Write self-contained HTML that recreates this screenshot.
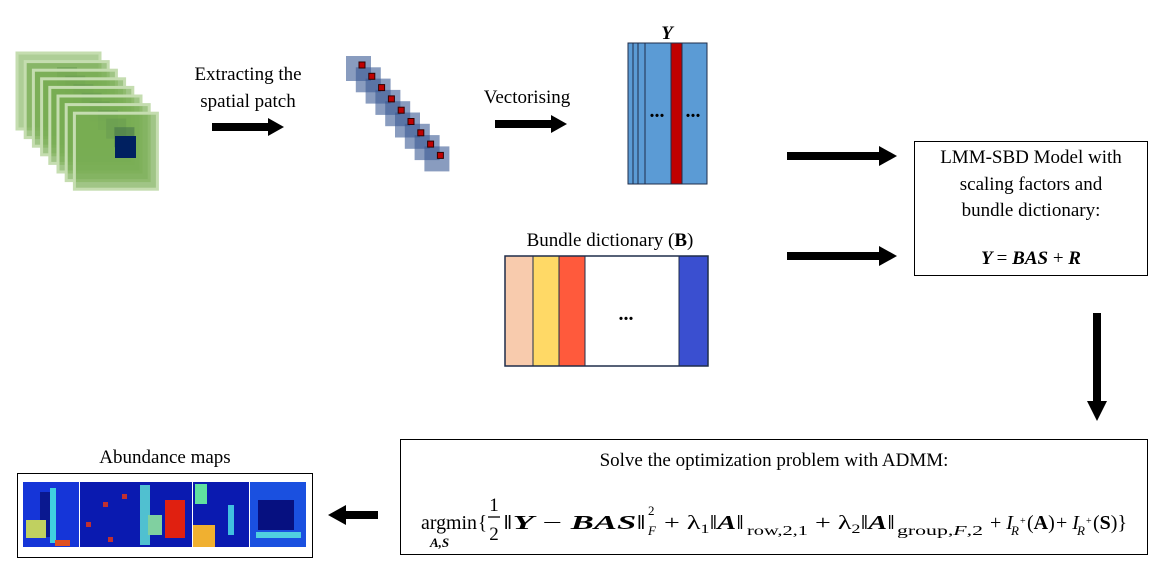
<!DOCTYPE html>
<html><head><meta charset="utf-8"><style>
body{margin:0;background:#fff;width:1173px;height:567px;overflow:hidden}
svg{display:block}
text{font-family:"Liberation Serif",serif;fill:#000}
</style></head><body>
<svg width="1173" height="567" viewBox="0 0 1173 567">
<g id="stack"></g>
<text x="248" y="80" font-size="19" text-anchor="middle">Extracting the</text>
<text x="248" y="107" font-size="19" text-anchor="middle">spatial patch</text>
<g><rect x="212" y="123" width="58" height="8"/><polygon points="268,118 284,127 268,136"/></g>
<g id="diag"></g>
<text x="527" y="103" font-size="19" text-anchor="middle">Vectorising</text>
<g><rect x="495" y="120" width="58" height="8"/><polygon points="551,115 567,124 551,133"/></g>
<g>
<rect x="628" y="43" width="79" height="141" fill="#5b9bd5" stroke="#1f2d4a" stroke-width="1"/>
<line x1="633" y1="43" x2="633" y2="184" stroke="#1f2d4a"/>
<line x1="638" y1="43" x2="638" y2="184" stroke="#1f2d4a"/>
<line x1="645" y1="43" x2="645" y2="184" stroke="#1f2d4a"/>
<rect x="671" y="43" width="11" height="141" fill="#c00000" stroke="#1f2d4a"/>
<text x="657" y="117" font-size="20" font-weight="bold" text-anchor="middle">...</text>
<text x="693" y="117" font-size="20" font-weight="bold" text-anchor="middle">...</text>
</g>
<text x="667" y="39" font-size="19" font-weight="bold" font-style="italic" text-anchor="middle">Y</text>
<g><rect x="787" y="152" width="94" height="8"/><polygon points="879,146 897,156 879,166"/></g>
<g><rect x="787" y="252" width="94" height="8"/><polygon points="879,246 897,256 879,266"/></g>
<text x="610" y="246" font-size="19" text-anchor="middle">Bundle dictionary (<tspan font-weight="bold">B</tspan>)</text>
<g>
<rect x="505" y="256" width="28" height="110" fill="#f8cbad"/>
<rect x="533" y="256" width="26" height="110" fill="#ffd966"/>
<rect x="559" y="256" width="26" height="110" fill="#ff5a3c"/>
<rect x="679" y="256" width="29" height="110" fill="#3a4fd0"/>
<rect x="505" y="256" width="203" height="110" fill="none" stroke="#1f2d4a" stroke-width="1.5"/>
<line x1="533" y1="256" x2="533" y2="366" stroke="#1f2d4a"/><line x1="559" y1="256" x2="559" y2="366" stroke="#1f2d4a"/><line x1="585" y1="256" x2="585" y2="366" stroke="#1f2d4a"/><line x1="679" y1="256" x2="679" y2="366" stroke="#1f2d4a"/>
<text x="626" y="320" font-size="20" font-weight="bold" text-anchor="middle">...</text>
</g>
<g>
<rect x="914.5" y="141.5" width="233" height="134" fill="#fff" stroke="#000"/>
<text x="1031" y="163" font-size="19" text-anchor="middle">LMM-SBD Model with</text>
<text x="1031" y="190" font-size="19" text-anchor="middle">scaling factors and</text>
<text x="1031" y="216" font-size="19" text-anchor="middle">bundle dictionary:</text>
<text x="1031" y="264" font-size="19" font-weight="bold" font-style="italic" text-anchor="middle">Y <tspan font-style="normal" font-weight="normal">=</tspan> BAS <tspan font-style="normal" font-weight="normal">+</tspan> R</text>
</g>
<g><rect x="1093" y="313" width="8" height="90"/><polygon points="1087,401 1097,421 1107,401"/></g>
<g>
<rect x="400.5" y="439.5" width="747" height="115" fill="#fff" stroke="#000"/>
<text x="774" y="466" font-size="19" text-anchor="middle">Solve the optimization problem with ADMM:</text>
<g font-size="20">
<text x="421" y="529" textLength="56" lengthAdjust="spacingAndGlyphs">argmin</text>
<text x="478" y="529" textLength="9" lengthAdjust="spacingAndGlyphs">{</text>
<text x="430" y="547" font-size="13" font-weight="bold" font-style="italic">A,S</text>
<text x="494" y="511" font-size="19" text-anchor="middle">1</text>
<line x1="488" y1="517" x2="500" y2="517" stroke="#000" stroke-width="1.3"/>
<text x="494" y="540" font-size="19" text-anchor="middle">2</text>
<text x="503" y="529" textLength="143" lengthAdjust="spacingAndGlyphs">‖<tspan font-weight="bold" font-style="italic">Y</tspan> − <tspan font-weight="bold" font-style="italic">BAS</tspan>‖</text>
<text x="648" y="515" font-size="13">2</text>
<text x="648" y="535" font-size="13" font-style="italic">F</text>
<text x="664" y="529" textLength="80" lengthAdjust="spacingAndGlyphs">+ λ<tspan font-size="13" dy="4">1</tspan><tspan dy="-4">‖</tspan><tspan font-weight="bold" font-style="italic">A</tspan>‖</text>
<text x="747" y="535" font-size="14" textLength="61" lengthAdjust="spacingAndGlyphs">row,2,1</text>
<text x="815" y="529" textLength="80" lengthAdjust="spacingAndGlyphs">+ λ<tspan font-size="13" dy="4">2</tspan><tspan dy="-4">‖</tspan><tspan font-weight="bold" font-style="italic">A</tspan>‖</text>
<text x="897" y="535" font-size="14" textLength="86" lengthAdjust="spacingAndGlyphs">group,<tspan font-style="italic">F</tspan>,2</text>
<text x="990" y="529">+ <tspan font-style="italic">I</tspan></text>
<text x="1011" y="535" font-size="13" font-style="italic">R</text><text x="1020" y="524" font-size="10">+</text>
<text x="1027" y="529">(<tspan font-weight="bold">A</tspan>)</text>
<text x="1056" y="529">+ <tspan font-style="italic">I</tspan></text>
<text x="1077" y="535" font-size="13" font-style="italic">R</text><text x="1086" y="524" font-size="10">+</text>
<text x="1093" y="529">(<tspan font-weight="bold">S</tspan>)}</text>
</g>
</g>
<g><rect x="344" y="511" width="34" height="8"/><polygon points="346,505 328,515 346,525"/></g>
<text x="165" y="463" font-size="19" text-anchor="middle">Abundance maps</text>
<g>
<rect x="17.5" y="473.5" width="295" height="84" fill="#fff" stroke="#000"/>
<rect x="23" y="482" width="56" height="65" fill="#1535d8"/>
<rect x="40" y="492" width="14" height="45" fill="#0a1890"/><rect x="50" y="488" width="6" height="55" fill="#40d0e0"/><rect x="26" y="520" width="20" height="18" fill="#c0d060"/><rect x="55" y="540" width="15" height="6" fill="#e05020"/>
<rect x="80" y="482" width="112" height="65" fill="#0a1ab0"/>
<rect x="165" y="500" width="20" height="38" fill="#e02010"/><rect x="140" y="485" width="10" height="60" fill="#50c0d0"/><rect x="148" y="515" width="14" height="20" fill="#80d0a0"/>
<rect x="103" y="502" width="5" height="5" fill="#c03030"/><rect x="86" y="522" width="5" height="5" fill="#c03030"/><rect x="122" y="494" width="5" height="5" fill="#c03030"/><rect x="108" y="537" width="5" height="5" fill="#c03030"/>
<rect x="193" y="482" width="56" height="65" fill="#0a1ab0"/>
<rect x="193" y="525" width="22" height="22" fill="#f0b030"/><rect x="195" y="484" width="12" height="20" fill="#60e0a0"/><rect x="228" y="505" width="6" height="30" fill="#40c0e0"/>
<rect x="250" y="482" width="56" height="65" fill="#1a50e0"/>
<rect x="258" y="500" width="36" height="30" fill="#061080"/><rect x="256" y="532" width="45" height="6" fill="#50d0e0"/>
</g>
<script>
(function(){
var ns="http://www.w3.org/2000/svg";
var st=document.getElementById('stack');
for(var i=0;i<8;i++){
 var x=17+i*8.2,y=53+i*8.6;
 var r=document.createElementNS(ns,'rect');
 r.setAttribute('x',x);r.setAttribute('y',y);r.setAttribute('width',83);r.setAttribute('height',76);
 r.setAttribute('fill','#78ad52');r.setAttribute('fill-opacity',i==0?'0.6':'0.7');r.setAttribute('stroke','#c5ddb0');r.setAttribute('stroke-width','3');
 
 
 st.appendChild(r);
 var d=document.createElementNS(ns,'rect');
 d.setAttribute('x',x+40);d.setAttribute('y',y+14);d.setAttribute('width',20);d.setAttribute('height',20);
 d.setAttribute('fill','#3d6b4a');d.setAttribute('opacity','0.5');
 
 
 st.appendChild(d);
}
var b=document.createElementNS(ns,'rect');
b.setAttribute('x',115);b.setAttribute('y',136);b.setAttribute('width',21);b.setAttribute('height',22);b.setAttribute('fill','#002060');


st.appendChild(b);
var dg=document.getElementById('diag');
for(var j=0;j<9;j++){
 var px=346+j*9.8,py=56+j*11.3;
 var s=document.createElementNS(ns,'rect');
 s.setAttribute('x',px);s.setAttribute('y',py);s.setAttribute('width',25);s.setAttribute('height',25);
 s.setAttribute('fill','#3b5a95');s.setAttribute('opacity','0.6');
 
 
 dg.appendChild(s);
}
for(var k=0;k<9;k++){
 var q=document.createElementNS(ns,'rect');
 q.setAttribute('x',359+k*9.8);q.setAttribute('y',62+k*11.3);q.setAttribute('width',6);q.setAttribute('height',6);
 q.setAttribute('fill','#c00000');q.setAttribute('stroke','#300');
 
 
 dg.appendChild(q);
}
})();
</script>
</svg>
</body></html>
